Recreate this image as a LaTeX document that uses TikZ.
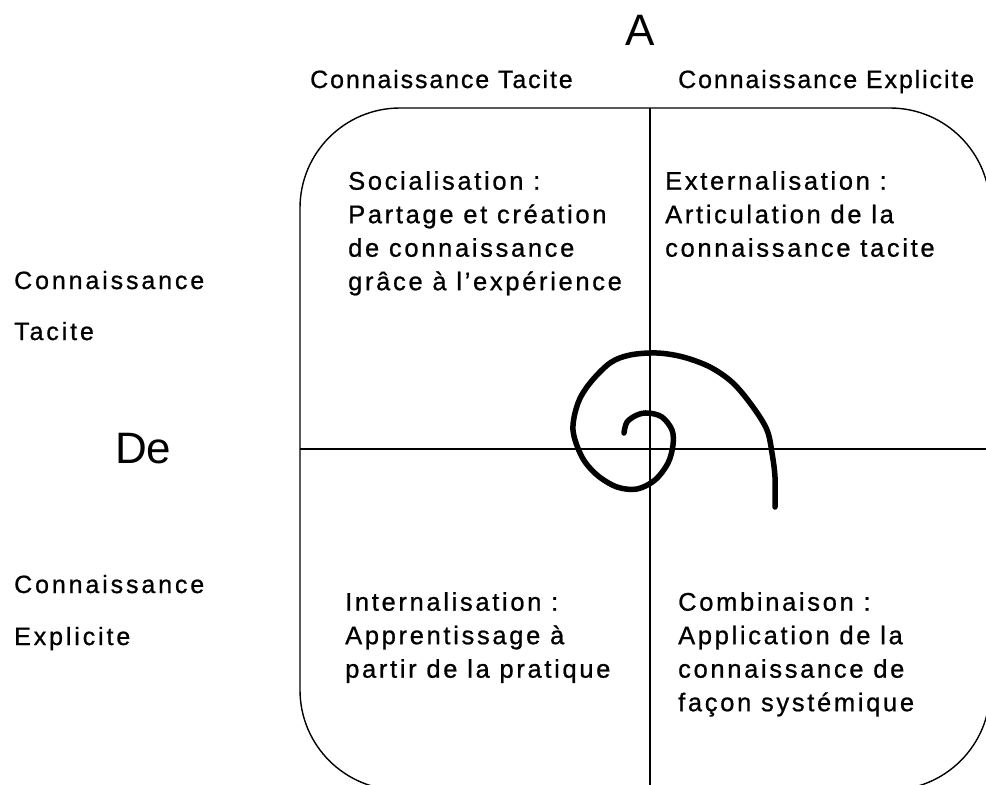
\documentclass[tikz,border=0pt]{standalone}
\usepackage{fontspec}
\setmainfont{Liberation Sans}
\newfontfamily\headfont{Liberation Sans}[LetterSpace=7.5,FakeBold=0.8]
\newfontfamily\rowfont{Liberation Sans}[LetterSpace=11.5,FakeBold=0.8]
\newfontfamily\quadfont{Liberation Sans}[LetterSpace=10.5,FakeBold=0.8]

\begin{document}
\begin{tikzpicture}[x=1pt,y=-1pt,
    headtxt/.style={anchor=base west,inner sep=0pt,font=\headfont\fontsize{25}{30}\selectfont},
    rowtxt/.style={anchor=base west,inner sep=0pt,font=\rowfont\fontsize{25}{30}\selectfont},
    quadtxt/.style={anchor=north west,inner sep=0pt,align=left,font=\quadfont\fontsize{25.5}{33.5}\selectfont},
    bigtxt/.style={anchor=base west,inner sep=0pt,font=\fontsize{44}{50}\selectfont},
    divider/.style={line width=1.4pt}]

    % Page frame
    \fill [white] (0,0) rectangle (986,785);
    \clip (0,0) rectangle (986,785);

    % Axis letters
    \node (a) [bigtxt] at (625,45) {A};
    \node (de) [bigtxt] at (115,463) {De};

    % Column headings
    \node (coltacite) [headtxt] at (310,88) {Connaissance Tacite};
    \node (colexpl) [headtxt] at (678,88) {Connaissance Explicite};

    % Row headings
    \node (rowtacite1) [rowtxt] at (14,289) {Connaissance};
    \node (rowtacite2) [rowtxt] at (14,340) {Tacite};
    \node (rowexpl1) [rowtxt] at (14,593) {Connaissance};
    \node (rowexpl2) [rowtxt] at (14,645) {Explicite};

    % Rounded frame and dividers
    \draw [divider,rounded corners=100pt] (300,108) rectangle (990,790);
    \draw [divider] (650,108) -- (650,790);
    \draw [divider] (300,449) -- (990,449);

    % Quadrants
    \node (soc) [quadtxt] at (348,171) {Socialisation :\\Partage et création\\de connaissance\\grâce à l’expérience};
    \node (ext) [quadtxt] at (665,171) {Externalisation :\\Articulation de la\\connaissance tacite};
    \node (int) [quadtxt] at (345,592) {Internalisation :\\Apprentissage à\\partir de la pratique};
    \node (comb) [quadtxt] at (678,592) {Combinaison :\\Application de la\\connaissance de\\façon systémique};

    % Spiral
    \draw [line width=5.5pt,line cap=round,line join=round] plot [smooth,tension=0.55] coordinates {
        (624,433) (627,422) (637,415) (648,413) (662,417) (672,430) (673,445)
        (668,463) (655,480) (637,489) (617,487) (597,475) (582,457) (573,430)
        (578,403) (590,383) (610,363) (630,355) (657,353) (683,357) (710,367)
        (733,383) (753,407) (767,430) (772,453) (775,477) (775,507)};

\end{tikzpicture}
\end{document}
